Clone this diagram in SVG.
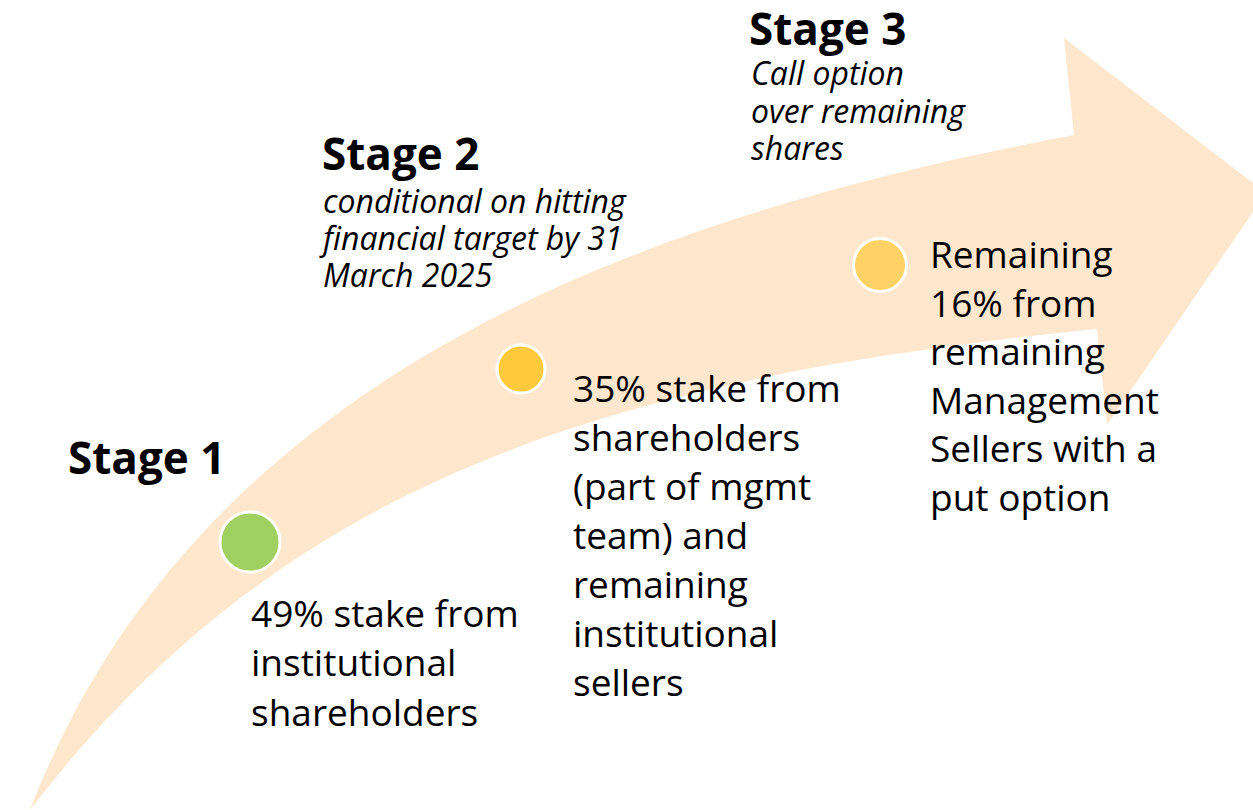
<svg xmlns="http://www.w3.org/2000/svg" width="1253" height="810" viewBox="0 0 1253 810">
  <style>
    .stage { font-family: "Open Sans", "Noto Sans", sans-serif; font-weight: 700; font-size: 44px; fill: #000; }
    .note { font-family: "Open Sans", "Noto Sans", sans-serif; font-style: italic; font-size: 32px; fill: #000; }
    .body { font-family: "Open Sans", "Noto Sans", sans-serif; font-size: 37px; fill: #000; }
    .dot { stroke: #fff; stroke-width: 3; }
  </style>
  <rect width="1253" height="810" fill="#fff"/>

  <!-- rising curved arrow band -->
  <g id="arrow">
    <path d="M30,810 C200,370 650,215 1074,135 L1064,38 L1266,193 L1107,425 L1097,329 C597,379 280,485 30,810 Z" fill="#FEE7CC"/>
  </g>

  <g id="stage1">
    <circle class="dot" cx="250" cy="542" r="30" fill="#A0D160"/>
    <text class="stage" x="68" y="474">Stage 1</text>
    <text class="body" x="251" y="627">49% stake from</text>
    <text class="body" x="251" y="676">institutional</text>
    <text class="body" x="251" y="726">shareholders</text>
  </g>

  <g id="stage2">
    <circle class="dot" cx="521" cy="369" r="24" fill="#FFC93C"/>
    <text class="stage" x="322" y="170">Stage 2</text>
    <text class="note" x="323" y="213">conditional on hitting</text>
    <text class="note" x="323" y="250">financial target by 31</text>
    <text class="note" x="323" y="287">March 2025</text>
    <text class="body" x="573" y="402">35% stake from</text>
    <text class="body" x="573" y="451">shareholders</text>
    <text class="body" x="573" y="500">(part of mgmt</text>
    <text class="body" x="573" y="549">team) and</text>
    <text class="body" x="573" y="598">remaining</text>
    <text class="body" x="573" y="647">institutional</text>
    <text class="body" x="573" y="696">sellers</text>
  </g>

  <g id="stage3">
    <circle class="dot" cx="880" cy="265" r="26.5" fill="#FFD266"/>
    <text class="stage" x="749" y="45">Stage 3</text>
    <text class="note" x="751" y="85">Call option</text>
    <text class="note" x="751" y="123">over remaining</text>
    <text class="note" x="751" y="160">shares</text>
    <text class="body" x="930" y="268">Remaining</text>
    <text class="body" x="930" y="317">16% from</text>
    <text class="body" x="930" y="365">remaining</text>
    <text class="body" x="930" y="414">Management</text>
    <text class="body" x="930" y="462">Sellers with a</text>
    <text class="body" x="930" y="511">put option</text>
  </g>

  <g id="connectors"></g>
</svg>
